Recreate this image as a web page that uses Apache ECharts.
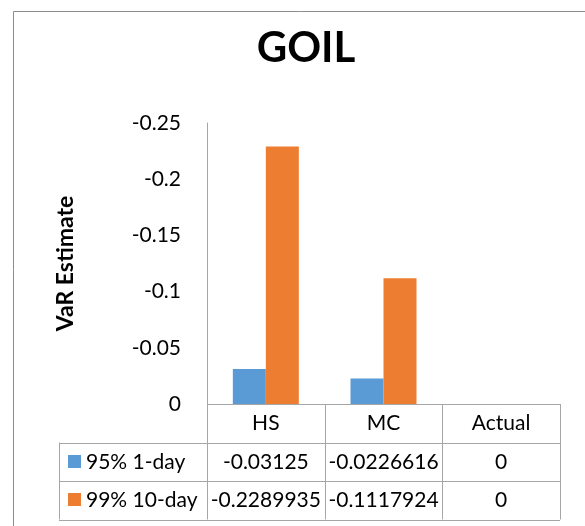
<!DOCTYPE html>
<html><head><meta charset="utf-8">
<script src="https://cdn.jsdelivr.net/npm/echarts@6/dist/echarts.min.js"></script>
<style>html,body{margin:0;padding:0;background:#fff}#c{width:585px;height:526px}</style>
</head><body><div id="c"></div>
<script>
const categories = ['HS', 'MC', 'Actual'];
const seriesNames = ['95% 1-day', '99% 10-day'];
const var95 = [-0.03125, -0.0226616, 0];
const var99 = [-0.2289935, -0.1117924, 0];
const colors = ['#5B9BD5', '#ED7D31'];
const FONT = 'Lato';
const lineColor = '#a6a6a6';

const chart = echarts.init(document.getElementById('c'), null, {renderer: 'canvas'});
chart.setOption({
  animation: false,
  title: {
    text: 'GOIL', left: 301, top: 22, textAlign: 'center',
    textStyle: {fontFamily: FONT, fontWeight: 'bold', fontSize: 42, color: '#000'}
  },
  grid: {left: 207, right: 25, top: 123, bottom: 122, containLabel: false},
  xAxis: {
    type: 'category', data: categories,
    axisLine: {show: false}, axisTick: {show: false}, axisLabel: {show: false}
  },
  yAxis: {
    type: 'value', inverse: true, min: -0.25, max: 0, interval: 0.05,
    name: 'VaR Estimate', nameLocation: 'middle', nameGap: 130, nameRotate: 90,
    nameTextStyle: {fontFamily: FONT, fontWeight: 'bold', fontSize: 23, color: '#000'},
    axisLine: {show: true, lineStyle: {color: lineColor, width: 1}},
    axisTick: {show: false}, splitLine: {show: false},
    axisLabel: {fontFamily: FONT, fontSize: 21, color: '#000', margin: 26}
  },
  series: [
    {name: seriesNames[0], type: 'bar', data: var95, barWidth: 33, barGap: '0%', itemStyle: {color: colors[0]}},
    {name: seriesNames[1], type: 'bar', data: var99, barWidth: 33, barGap: '0%', itemStyle: {color: colors[1]}}
  ]
});

// Build data table below the plot from the arrays
const rect = chart.getModel().getComponent('grid').coordinateSystem.getRect();
const x0 = rect.x, x1 = rect.x + rect.width, yb = rect.y + rect.height;
const colW = rect.width / categories.length;
const rowH = 38.5;
const tableLeft = 59;
const g = [];
// outer frame
g.push({type: 'rect', shape: {x: 13.5, y: 11.5, width: 700, height: 700}, style: {fill: null, stroke: '#8c8c8c', lineWidth: 1}, silent: true});
const ls = {stroke: lineColor, lineWidth: 1};
function hline(xa, xb, y) { g.push({type: 'line', shape: {x1: xa, y1: Math.round(y) + 0.5, x2: xb, y2: Math.round(y) + 0.5}, style: ls}); }
function vline(x, ya, yb2) { g.push({type: 'line', shape: {x1: Math.round(x) + 0.5, y1: ya, x2: Math.round(x) + 0.5, y2: yb2}, style: ls}); }
hline(x0, x1, yb);
hline(tableLeft, x1, yb + rowH);
hline(tableLeft, x1, yb + 2 * rowH);
hline(tableLeft, x1, yb + 3 * rowH);
for (let i = 0; i <= categories.length; i++) vline(x0 + i * colW, yb, yb + 3 * rowH);
vline(tableLeft, yb + rowH, yb + 3 * rowH);
const ts = {fontFamily: FONT, fontSize: 21, fill: '#000', textAlign: 'center', textVerticalAlign: 'middle'};
categories.forEach((c, i) => {
  const cx = chart.convertToPixel({xAxisIndex: 0}, c);
  g.push({type: 'text', x: cx, y: yb + rowH / 2, style: Object.assign({text: c}, ts)});
  [var95, var99].forEach((arr, r) => {
    g.push({type: 'text', x: cx, y: yb + rowH * (r + 1.5), style: Object.assign({text: String(arr[i])}, ts)});
  });
});
seriesNames.forEach((n, r) => {
  const cy = yb + rowH * (r + 1.5);
  g.push({type: 'rect', shape: {x: 68, y: Math.round(cy) - 7, width: 13, height: 13}, style: {fill: colors[r]}});
  g.push({type: 'text', x: 86, y: cy, style: {text: n, fontFamily: FONT, fontSize: 21, fill: '#000', textAlign: 'left', textVerticalAlign: 'middle'}});
});
chart.setOption({graphic: {elements: g}});
</script>
</body></html>
